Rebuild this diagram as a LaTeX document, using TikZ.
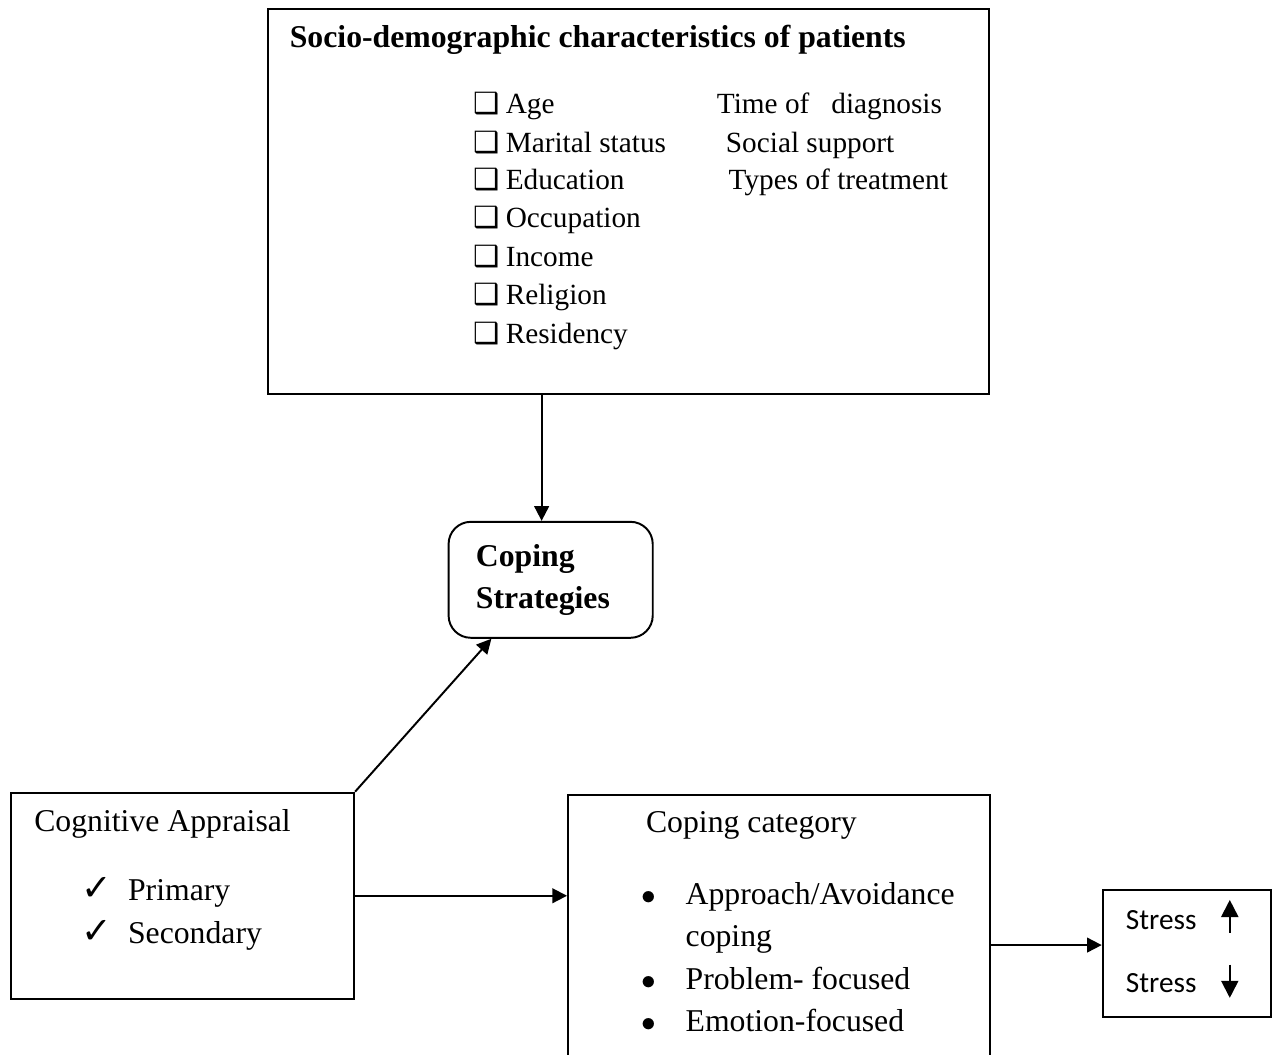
\documentclass[tikz,border=0pt]{standalone}
\usepackage{fontspec}
\setmainfont{Liberation Serif}
\newfontfamily\symfont{DejaVu Sans}
\newfontfamily\calfont{Carlito}
\usetikzlibrary{arrows.meta}

\begin{document}
\begin{tikzpicture}[>={Triangle[length=6pt,width=6pt]},thick,
  font=\fontsize{13}{15}\selectfont,
  box/.style={draw,rectangle,inner sep=0pt},
  txt/.style={anchor=base west,inner sep=0pt},
  item/.style={txt,font=\fontsize{12}{14}\selectfont}]
\useasboundingbox (0,0) rectangle (18.39,15.19);
\clip (0,0) rectangle (18.39,15.19);
% boxes
\node[box,minimum width=10.38cm,minimum height=5.54cm] (socio) at (9.05,12.29) {};
\node[box,rounded corners=0.32cm,minimum width=2.94cm,minimum height=1.67cm] (cs) at (7.93,6.84) {};
\node[box,minimum width=4.94cm,minimum height=2.97cm] (cog) at (2.63,2.29) {};
\node[box,minimum width=6.08cm,minimum height=4.03cm] (cat) at (11.22,1.73) {};
\node[box,minimum width=2.42cm,minimum height=1.83cm] (stress) at (17.09,1.46) {};
% socio-demographic box
\node[txt] (title) at (4.16,14.50) {\bfseries Socio-demographic characteristics of patients};
\node[item] (c1) at (6.81,13.56) {\symfont ❑};
\node[item] (c2) at (6.81,13.00) {\symfont ❑};
\node[item] (c3) at (6.81,12.46) {\symfont ❑};
\node[item] (c4) at (6.81,11.91) {\symfont ❑};
\node[item] (c5) at (6.81,11.35) {\symfont ❑};
\node[item] (c6) at (6.81,10.80) {\symfont ❑};
\node[item] (c7) at (6.81,10.25) {\symfont ❑};
\node[item] (age) at (7.27,13.56) {Age};
\node[item] (mar) at (7.27,13.00) {Marital status};
\node[item] (edu) at (7.27,12.46) {Education};
\node[item] (occ) at (7.27,11.91) {Occupation};
\node[item] (inc) at (7.27,11.35) {Income};
\node[item] (rel) at (7.27,10.80) {Religion};
\node[item] (res) at (7.27,10.25) {Residency};
\node[item] (time) at (10.31,13.56) {Time of\ \ \ diagnosis};
\node[item] (soc) at (10.44,13.00) {Social support};
\node[item] (treat) at (10.48,12.46) {Types of treatment};
% coping strategies
\node[txt] (cs1) at (6.84,7.03) {\bfseries Coping};
\node[txt] (cs2) at (6.84,6.42) {\bfseries Strategies};
% cognitive appraisal
\node[txt] (cogt) at (0.48,3.21) {Cognitive Appraisal};
\node[txt] (k1) at (1.16,2.22) {\symfont\fontsize{15}{15}\selectfont ✓};
\node[txt] (k2) at (1.16,1.60) {\symfont\fontsize{15}{15}\selectfont ✓};
\node[txt] (pri) at (1.83,2.22) {Primary};
\node[txt] (sec) at (1.83,1.60) {Secondary};
% coping category
\node[txt] (catt) at (9.29,3.20) {Coping category};
\node[txt] (b1) at (9.22,2.16) {$\bullet$};
\node[txt] (b2) at (9.22,0.94) {$\bullet$};
\node[txt] (b3) at (9.22,0.33) {$\bullet$};
\node[txt] (app) at (9.86,2.16) {Approach/Avoidance};
\node[txt] (appc) at (9.86,1.56) {coping};
\node[txt] (prob) at (9.86,0.94) {Problem- focused};
\node[txt] (emo) at (9.86,0.33) {Emotion-focused};
% stress
\node[item] (s1) at (16.20,1.81) {\calfont Stress};
\node[item] (s2) at (16.20,0.89) {\calfont Stress};
\draw[-{Triangle[length=7pt,width=7pt]}] (17.71,1.76) -- (17.71,2.23);
\draw[-{Triangle[length=7pt,width=7pt]}] (17.71,1.30) -- (17.71,0.82);
% connectors
\draw[->] ([xshift=-0.13cm]cs.north |- socio.south) -- ([xshift=-0.13cm]cs.north);
\draw[->] (cog.north east) -- ([xshift=0.63cm]cs.south west);
\draw[->] (cog.east) -- (cog.east -| cat.west);
\draw[->] ([yshift=1.2mm]cat.east |- stress.west) -- ([yshift=1.2mm]stress.west);
\end{tikzpicture}
\end{document}
